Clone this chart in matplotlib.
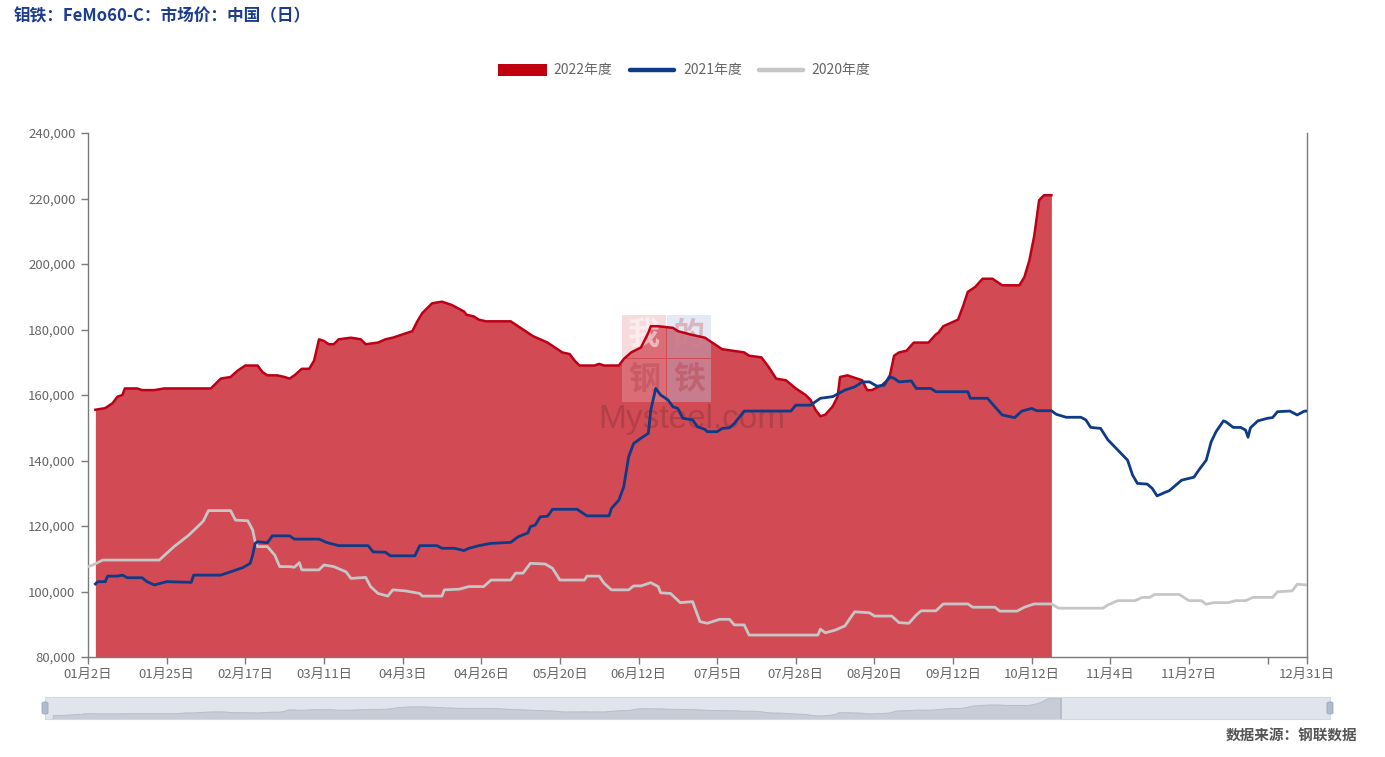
import matplotlib
matplotlib.use("Agg")
import matplotlib.pyplot as plt
from matplotlib.patches import Rectangle, FancyBboxPatch
from matplotlib.lines import Line2D
from matplotlib.ticker import FuncFormatter

plt.rcParams['font.family'] = ['Noto Sans CJK SC', 'DejaVu Sans']

# ---------------- data (x = category index on the date axis) ----------------
x_labels = ["01月2日", "01月25日", "02月17日", "03月11日", "04月3日", "04月26日",
            "05月20日", "06月12日", "07月5日", "07月28日", "08月20日", "09月12日",
            "10月12日", "11月4日", "11月27日", "", "12月31日"]
n_categories = 249

x22 = [1.5, 3.5, 5, 6, 7, 7.5, 10, 11, 13.5, 15.5, 25, 26, 27, 29, 30.5, 32, 34.5, 35.5,
       36.5, 38.5, 40, 41, 42, 43.5, 45, 46, 47, 48, 49, 50, 51, 53.5, 55.5, 56.5, 59,
       60.5, 62, 63, 66, 67, 68, 70, 72, 74, 76.5, 77, 78.5, 79.5, 81, 86, 87.5, 89.5,
       90.5, 93.5, 95.5, 96.5, 98, 99, 100, 103, 104, 105, 108, 109, 110.5, 112.5, 114,
       114.5, 116, 119, 120, 122.5, 125.5, 127, 129, 133.5, 134.5, 137, 138.5, 140, 142,
       144, 146, 147, 148, 149, 150, 151.5, 152.5, 153, 154.5, 156.5, 157.5, 158.5,
       159.5, 161.5, 163, 164, 165, 166.5, 168, 171, 172.5, 173, 174, 175.5, 177, 178,
       179, 180.5, 182, 184, 186, 189.5, 190.5, 191.5, 192.5, 193.5, 194.5, 196]
v22 = [155500, 156000, 157500, 159500, 160000, 162000, 162000, 161500, 161500, 162000,
       162000, 163500, 165000, 165500, 167500, 169000, 169000, 167000, 166000, 166000,
       165500, 165000, 166000, 168000, 168000, 170500, 177000, 176500, 175500, 175500,
       177000, 177500, 177000, 175500, 176000, 177000, 177500, 178000, 179500, 182500,
       185000, 188000, 188500, 187500, 185500, 184500, 184000, 183000, 182500, 182500,
       181000, 179000, 178000, 176000, 174000, 173000, 172500, 170500, 169000, 169000,
       169500, 169000, 169000, 171000, 173000, 174500, 179000, 181000, 181000, 180500,
       179500, 178500, 177500, 176000, 174000, 173000, 172000, 171500, 168500, 165000,
       164500, 162000, 160000, 158500, 155500, 153500, 154000, 156500, 159500, 165500,
       166000, 165000, 164500, 161500, 161500, 163000, 165000, 172000, 173000, 173500,
       176000, 176000, 178500, 179000, 181000, 182000, 183000, 187000, 191500, 193000,
       195500, 195500, 193500, 193500, 196000, 201000, 208500, 219500, 221000, 221000]

x21 = [1.5, 2, 3.5, 4, 6, 7, 8, 11, 12, 13.5, 16, 21, 21.5, 27, 29, 31.5, 33, 33.5, 34,
       34.5, 36.5, 37.5, 41, 42, 47, 48.5, 51, 57, 58, 60.5, 61.5, 66.5, 67.5, 71, 72,
       74.5, 76.5, 77.5, 79.5, 82, 86, 87.5, 89.5, 90, 91, 92, 93.5, 94.5, 99.5, 101.5,
       106, 106.5, 108, 109, 110, 111, 112.5, 114, 114.5, 115.5, 116.5, 118, 119, 120,
       121, 123, 124, 125.5, 126, 128, 129, 130.5, 131.5, 133.5, 143, 144, 147, 149,
       151.5, 154, 156, 157.5, 159, 160.5, 162, 163, 164, 165, 167.5, 168.5, 171.5,
       172.5, 179, 179.5, 183, 184.5, 186, 188.5, 190, 192, 193, 196, 197, 199, 202,
       203, 204, 206, 207.5, 209.5, 211.5, 212.5, 213.5, 215.5, 216.5, 217.5, 219, 220,
       222.5, 225, 226, 227.5, 228.5, 229.5, 231, 231.5, 233, 234.5, 235.5, 236, 236.5,
       238, 240, 241, 242, 244.5, 246, 247.5, 248]
v21 = [102300, 103000, 103000, 104700, 104700, 105000, 104200, 104200, 103000, 102000,
       103000, 102800, 105000, 105000, 106000, 107300, 108600, 111100, 114700, 115200,
       114900, 117000, 117000, 116000, 116000, 115000, 114000, 114000, 112100, 112000,
       110900, 110900, 114000, 114000, 113200, 113200, 112500, 113200, 114000, 114700,
       115000, 116700, 117900, 119800, 120300, 122800, 123000, 125100, 125100, 123100,
       123100, 125400, 127900, 132000, 141200, 145200, 146800, 148300, 155400, 162000,
       160000, 158500, 156400, 155900, 152900, 152400, 150300, 149500, 148800, 148800,
       149800, 150000, 151300, 155100, 155100, 156900, 156900, 159000, 159500, 161500,
       162500, 164000, 164000, 162700, 163000, 165600, 165100, 164000, 164300, 162000,
       162000, 161000, 161000, 159000, 159000, 156400, 153900, 153100, 155100, 155900,
       155200, 155200, 154100, 153200, 153200, 152400, 150100, 149800, 146300, 143200,
       140100, 135600, 133000, 132800, 131500, 129200, 130200, 130800, 134000, 134900,
       137100, 140100, 145700, 148800, 152100, 151800, 150100, 150100, 149300, 147100,
       150000, 152100, 152900, 153100, 154900, 155100, 153900, 155100, 155100]

x20 = [0, 1, 3, 14.5, 17.5, 20.5, 23, 23.5, 24.5, 29, 30, 32.5, 33.5, 34, 34.5, 36.5, 38,
       39, 41, 42, 43, 43.5, 47, 48, 50, 52.5, 53.5, 56.5, 57.5, 59, 61, 62, 64.5, 67.5,
       68, 72, 72.5, 75.5, 77.5, 80.5, 82, 86, 87, 88.5, 90, 93, 94.5, 96, 101, 101.5,
       104, 105, 106.5, 110, 111, 112.5, 114.5, 116, 116.5, 118.5, 120.5, 123, 124.5,
       126, 128.5, 130.5, 131.5, 133.5, 134.5, 148.5, 149, 150, 152, 154, 155.5, 156,
       159, 160, 163.5, 165, 167, 168.5, 169.5, 172.5, 174, 179, 180, 184.5, 185.5, 189,
       190.5, 192.5, 196, 197.5, 206.5, 207.5, 209.5, 213, 214.5, 216, 217, 222, 224,
       226.5, 227.5, 229, 232, 233.5, 235.5, 237, 241, 242, 245, 246, 248]
v20 = [107600, 108100, 109600, 109600, 113700, 117200, 120800, 121600, 124700, 124700,
       121800, 121600, 118800, 115200, 113700, 113700, 111100, 107600, 107600, 107400,
       108800, 106600, 106600, 108100, 107600, 106000, 104000, 104300, 101500, 99400,
       98600, 100500, 100200, 99400, 98600, 98600, 100500, 100700, 101500, 101500,
       103500, 103500, 105600, 105600, 108600, 108400, 107100, 103500, 103500, 104700,
       104700, 102500, 100500, 100500, 101700, 101700, 102700, 101500, 99600, 99400,
       96600, 96900, 90800, 90300, 91500, 91500, 89800, 89800, 86700, 86700, 88500,
       87400, 88200, 89500, 92800, 93800, 93500, 92500, 92500, 90500, 90300, 92800,
       94100, 94100, 96200, 96200, 95200, 95200, 94000, 94000, 95200, 96200, 96200,
       94900, 94900, 95900, 97200, 97200, 98200, 98200, 99100, 99100, 97200, 97200,
       96100, 96600, 96600, 97200, 97200, 98200, 98200, 99900, 100200, 102200, 102000]

y_min, y_max, y_step = 80000, 240000, 20000

# ---------------- figure ----------------
W, H = 1385, 757
fig = plt.figure(figsize=(W / 100, H / 100), dpi=100)
fig.patch.set_facecolor('white')


def fx(px):
    return px / W


def fy(py):
    return 1 - py / H


ax = fig.add_axes([fx(88), fy(657), fx(1307) - fx(88), fy(133) - fy(657)])
ax.set_xlim(0, n_categories - 1)
ax.set_ylim(y_min, y_max)

ax.fill_between(x22, v22, y_min, color='#d14a54', lw=0, zorder=1)
ax.plot(x22, v22, color='#bd0016', lw=1.8, zorder=3, solid_joinstyle='round')
ax.plot(x20, v20, color='#c6c6c6', lw=2.0, zorder=4, solid_joinstyle='round')
ax.plot(x21, v21, color='#0e3a87', lw=2.0, zorder=5, solid_joinstyle='round')

# axes styling
ax.spines['top'].set_visible(False)
for s in ['left', 'right', 'bottom']:
    ax.spines[s].set_color('#7a7a7a')
    ax.spines[s].set_linewidth(1.0)
ax.set_yticks(list(range(y_min, y_max + 1, y_step)))
ax.yaxis.set_major_formatter(FuncFormatter(lambda v, p: f"{int(v):,}"))
tick_pos = [i * 16 for i in range(len(x_labels) - 1)] + [n_categories - 1]
ax.set_xticks(tick_pos)
ax.set_xticklabels(x_labels)
ax.tick_params(axis='both', direction='out', length=5, color='#7a7a7a',
               labelcolor='#666666', labelsize=9.5, width=1)
ax.tick_params(axis='y', pad=4)
ax.tick_params(axis='x', pad=3)

# watermark
wm_boxes = [(622, 315, '我', '#eba3ab', '#ffffff'), (667, 315, '的', '#b9cbe6', '#d77f8c'),
            (622, 359, '钢', '#eba3ab', '#b94a58'), (667, 359, '铁', '#b9cbe6', '#b94a58')]
for (px, py, ch, bg, fgc) in wm_boxes:
    ax.add_patch(Rectangle((fx(px), fy(py + 43)), fx(44), 43 / H, transform=fig.transFigure,
                           facecolor=bg, alpha=0.4, lw=0, zorder=2, clip_on=False))
    ax.text(fx(px + 22), fy(py + 21), ch, transform=fig.transFigure, fontsize=23,
            color=fgc, alpha=0.5, ha='center', va='center', zorder=2, fontweight='bold')
ax.text(fx(692), fy(404), 'Mysteel.com', transform=fig.transFigure, fontsize=24,
        color='#6a2a32', alpha=0.3, ha='center', va='top', zorder=2,
        family=['Liberation Sans', 'DejaVu Sans'])

# ---------------- title ----------------
fig.text(fx(14), fy(16), '钼铁：FeMo60-C：市场价：中国（日）', fontsize=12, fontweight='bold',
         color='#1c3c8c', ha='left', va='center')

# ---------------- legend ----------------
ly = 70
fig.add_artist(Rectangle((fx(498), fy(ly + 6)), fx(49), 12 / H, facecolor='#c0000e', lw=0))
fig.text(fx(553), fy(ly), '2022年度', fontsize=10, color='#666666', ha='left', va='center')
fig.add_artist(Line2D([fx(630), fx(674)], [fy(ly), fy(ly)], color='#0e3a87', lw=3.2,
                      solid_capstyle='round'))
fig.text(fx(683), fy(ly), '2021年度', fontsize=10, color='#666666', ha='left', va='center')
fig.add_artist(Line2D([fx(759), fx(803)], [fy(ly), fy(ly)], color='#c6c6c6', lw=3.2,
                      solid_capstyle='round'))
fig.text(fx(811), fy(ly), '2020年度', fontsize=10, color='#666666', ha='left', va='center')

# ---------------- data-zoom slider ----------------
axs = fig.add_axes([fx(45), fy(719), fx(1330) - fx(45), 22 / H])
axs.set_facecolor('#dfe4ed')
axs.set_xlim(0, n_categories - 1)
axs.set_ylim(140000, 224000)
axs.fill_between(x22, v22, 140000, color='#c7ccd7', lw=0.6, edgecolor='#b4bac7')
axs.axvline(x22[-1], color='#b4bac7', lw=1.2)
axs.set_xticks([])
axs.set_yticks([])
for s in axs.spines.values():
    s.set_color('#d3d8e2')
    s.set_linewidth(0.8)
for hx in (45, 1330):
    fig.add_artist(FancyBboxPatch((fx(hx - 3), fy(714)), 6 / W, 12 / H,
                                  boxstyle='round,pad=0,rounding_size=0.002',
                                  facecolor='#aebcd0', edgecolor='#9aa8bd', lw=0.6))

# ---------------- source ----------------
fig.text(fx(1357), fy(735), '数据来源：钢联数据', fontsize=10.5, fontweight='bold',
         color='#555555', ha='right', va='center')

fig.savefig('out.png', dpi=100, facecolor='white')
